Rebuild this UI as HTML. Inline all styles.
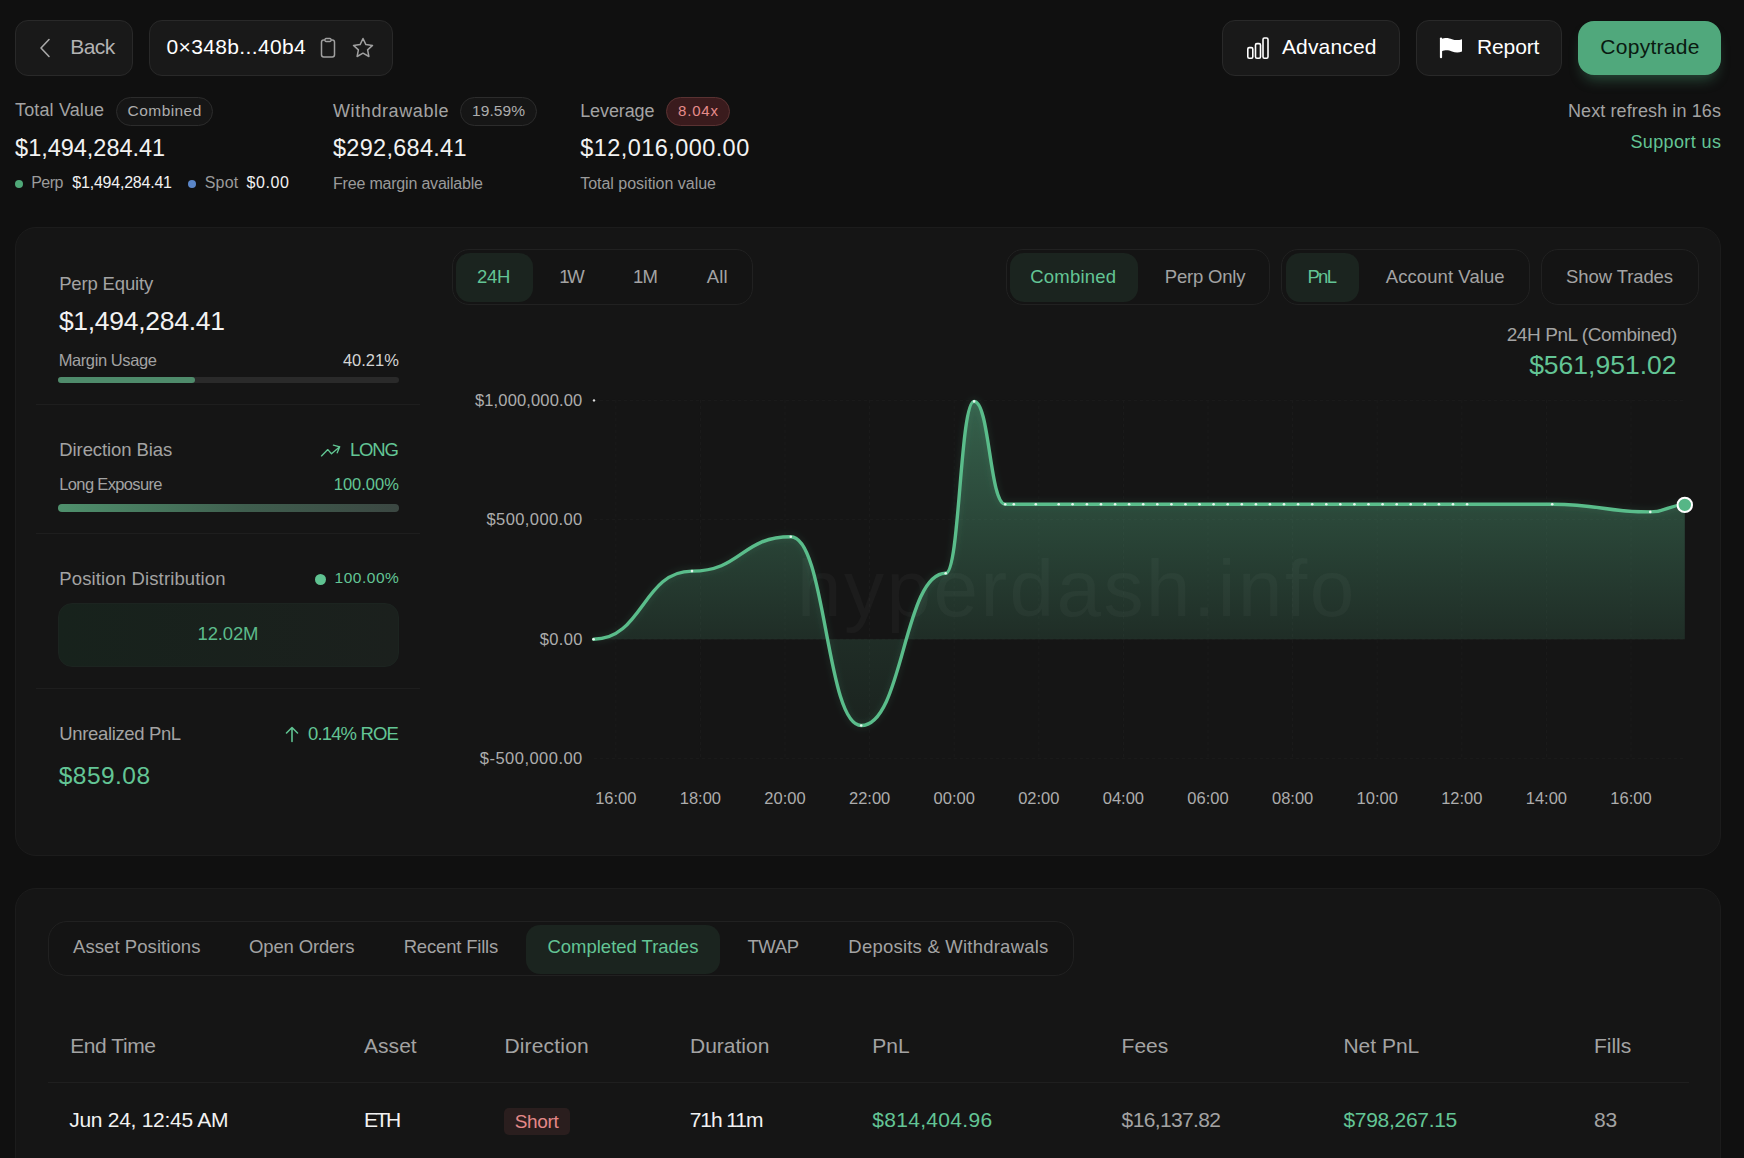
<!DOCTYPE html>
<html><head><meta charset="utf-8"><style>
html,body{margin:0;padding:0;}
body{width:1744px;height:1158px;overflow:hidden;background:#101010;position:relative;font-family:"Liberation Sans",sans-serif;}
.t{position:absolute;white-space:nowrap;line-height:1;}
.b{position:absolute;}
</style></head><body>
<div class="b" style="left:15px;top:20px;width:118px;height:56px;background:#191919;border:1px solid #292929;box-sizing:border-box;border-radius:13px;"></div>
<svg class="b" style="left:38px;top:37px" width="14" height="22" viewBox="0 0 14 22"><path d="M11 2.5 L3 11 L11 19.5" fill="none" stroke="#a8a8a8" stroke-width="1.6" stroke-linecap="round" stroke-linejoin="round"/></svg>
<div class="t" style="left:70.20px;top:36.42px;font-size:21px;color:#b3b3b3;letter-spacing:-0.542px;">Back</div>
<div class="b" style="left:149px;top:20px;width:244px;height:56px;background:#191919;border:1px solid #292929;box-sizing:border-box;border-radius:13px;"></div>
<div class="t" style="left:166.50px;top:36.22px;font-size:21px;color:#ffffff;letter-spacing:0.368px;">0×348b...40b4</div>
<svg class="b" style="left:318px;top:36px" width="20" height="24" viewBox="0 0 20 24"><rect x="3.5" y="4" width="13" height="17" rx="2.2" fill="none" stroke="#a0a0a0" stroke-width="1.5"/><rect x="7" y="2.5" width="6" height="3" rx="1" fill="#191919" stroke="#a0a0a0" stroke-width="1.3"/></svg>
<svg class="b" style="left:350px;top:36px" width="26" height="24" viewBox="0 0 26 24"><path d="M13 2.5 L15.9 8.6 L22.5 9.4 L17.6 13.9 L18.9 20.5 L13 17.2 L7.1 20.5 L8.4 13.9 L3.5 9.4 L10.1 8.6 Z" fill="none" stroke="#a0a0a0" stroke-width="1.5" stroke-linejoin="round"/></svg>
<div class="b" style="left:1222px;top:20px;width:178px;height:56px;background:#191919;border:1px solid #292929;box-sizing:border-box;border-radius:13px;"></div>
<svg class="b" style="left:1245px;top:36px" width="26" height="24" viewBox="0 0 26 24"><rect x="2.8" y="11.6" width="5" height="10.6" rx="1.4" fill="none" stroke="#fff" stroke-width="1.6"/><rect x="10.5" y="7.6" width="5" height="14.6" rx="1.4" fill="none" stroke="#fff" stroke-width="1.6"/><rect x="18" y="2" width="5" height="20.2" rx="1.4" fill="none" stroke="#fff" stroke-width="1.6"/></svg>
<div class="t" style="left:1281.90px;top:36.22px;font-size:21px;color:#ffffff;letter-spacing:0.170px;">Advanced</div>
<div class="b" style="left:1416px;top:20px;width:146px;height:56px;background:#191919;border:1px solid #292929;box-sizing:border-box;border-radius:13px;"></div>
<svg class="b" style="left:1438px;top:35px" width="26" height="26" viewBox="0 0 26 26"><path d="M3 3.5 L3 22.2" stroke="#fff" stroke-width="2.2" stroke-linecap="round"/><path d="M3.5 4 C8 2 11 3.2 14 4.2 C17 5.2 20 5.6 24 4.2 L24 16.5 C20 18 17 17.4 14 16.4 C11 15.4 8 14.4 3.5 16.4 Z" fill="#fff"/></svg>
<div class="t" style="left:1477.00px;top:36.32px;font-size:21px;color:#ffffff;letter-spacing:-0.124px;">Report</div>
<div class="b" style="left:1578px;top:21px;width:143px;height:54px;background:#50a87c;border-radius:16px;box-shadow:0 9px 14px -5px rgba(81,169,125,0.4);"></div>
<div class="t" style="left:1600.30px;top:36.32px;font-size:21px;color:#0a1a11;letter-spacing:0.276px;">Copytrade</div>
<div class="t" style="left:15.10px;top:101.46px;font-size:18px;color:#a3a3a3;letter-spacing:0.127px;">Total Value</div>
<div class="b" style="left:116px;top:97px;width:97px;height:29px;background:#161616;border:1px solid #2c2c2c;box-sizing:border-box;border-radius:15px;"></div>
<div class="t" style="left:127.60px;top:102.98px;font-size:15.5px;color:#adadad;letter-spacing:0.436px;">Combined</div>
<div class="t" style="left:15.10px;top:137.21px;font-size:23.5px;color:#f2f2f2;letter-spacing:-0.024px;">$1,494,284.41</div>
<div class="b" style="left:15px;top:180px;width:8px;height:8px;background:#4fa878;border-radius:50%;"></div>
<div class="t" style="left:31.30px;top:175.36px;font-size:16px;color:#9b9b9b;letter-spacing:-0.597px;">Perp</div>
<div class="t" style="left:72.30px;top:175.36px;font-size:16px;color:#f2f2f2;letter-spacing:-0.218px;">$1,494,284.41</div>
<div class="b" style="left:188px;top:180px;width:8px;height:8px;background:#5b86c8;border-radius:50%;"></div>
<div class="t" style="left:204.70px;top:175.36px;font-size:16px;color:#9b9b9b;letter-spacing:0.229px;">Spot</div>
<div class="t" style="left:246.50px;top:175.36px;font-size:16px;color:#f2f2f2;letter-spacing:0.617px;">$0.00</div>
<div class="t" style="left:333.00px;top:101.96px;font-size:18px;color:#a3a3a3;letter-spacing:0.596px;">Withdrawable</div>
<div class="b" style="left:460px;top:97px;width:77px;height:29px;background:#161616;border:1px solid #2c2c2c;box-sizing:border-box;border-radius:15px;"></div>
<div class="t" style="left:472.00px;top:102.98px;font-size:15.5px;color:#adadad;letter-spacing:0.085px;">19.59%</div>
<div class="t" style="left:333.00px;top:137.11px;font-size:23.5px;color:#f2f2f2;letter-spacing:0.282px;">$292,684.41</div>
<div class="t" style="left:333.00px;top:175.76px;font-size:16px;color:#9b9b9b;letter-spacing:-0.193px;">Free margin available</div>
<div class="t" style="left:580.20px;top:101.96px;font-size:18px;color:#a3a3a3;letter-spacing:-0.109px;">Leverage</div>
<div class="b" style="left:666px;top:97px;width:64px;height:29px;background:#3a1b1d;border:1px solid #5a3232;box-sizing:border-box;border-radius:15px;"></div>
<div class="t" style="left:678.00px;top:103.40px;font-size:15px;color:#e68b8b;letter-spacing:0.827px;">8.04x</div>
<div class="t" style="left:580.20px;top:137.11px;font-size:23.5px;color:#f2f2f2;letter-spacing:0.435px;">$12,016,000.00</div>
<div class="t" style="left:580.20px;top:175.76px;font-size:16px;color:#9b9b9b;letter-spacing:-0.015px;">Total position value</div>
<div class="t" style="left:1568.00px;top:101.76px;font-size:18px;color:#a3a3a3;letter-spacing:0.101px;">Next refresh in 16s</div>
<div class="t" style="left:1630.40px;top:132.96px;font-size:18px;color:#63c595;letter-spacing:0.384px;">Support us</div>
<div class="b" style="left:15px;top:227px;width:1706px;height:629px;background:#151515;border:1px solid #1c1c1c;box-sizing:border-box;border-radius:21px;"></div>
<div class="t" style="left:59.20px;top:274.54px;font-size:18.5px;color:#a3a3a3;letter-spacing:-0.163px;">Perp Equity</div>
<div class="t" style="left:58.90px;top:307.97px;font-size:26.5px;color:#f2f2f2;letter-spacing:-0.289px;">$1,494,284.41</div>
<div class="t" style="left:58.70px;top:352.43px;font-size:16.5px;color:#a3a3a3;letter-spacing:-0.410px;">Margin Usage</div>
<div class="t" style="left:342.93px;top:352.43px;font-size:16.5px;color:#d4d4d4;">40.21%</div>
<div class="b" style="left:58px;top:377px;width:341px;height:6px;background:#2a2a2a;border-radius:3px;"></div>
<div class="b" style="left:58px;top:377px;width:137px;height:6px;background:#4f8b6b;border-radius:3px;"></div>
<div class="b" style="left:36px;top:404px;width:384px;height:1px;background:#1e1e1e;"></div>
<div class="t" style="left:59.30px;top:440.54px;font-size:18.5px;color:#a3a3a3;letter-spacing:-0.094px;">Direction Bias</div>
<svg class="b" style="left:319px;top:442px" width="24" height="17" viewBox="0 0 24 17"><path d="M2.5 13.9 L8.8 7.6 L12.5 11.7 L20.7 4.8 M14.4 3.2 L20.7 4.8 L18.2 10.8" fill="none" stroke="#62c794" stroke-width="1.35" stroke-linecap="round" stroke-linejoin="round"/></svg>
<div class="t" style="left:350.00px;top:440.54px;font-size:18.5px;color:#63c595;letter-spacing:-1.176px;">LONG</div>
<div class="t" style="left:59.30px;top:475.53px;font-size:16.5px;color:#a3a3a3;letter-spacing:-0.650px;">Long Exposure</div>
<div class="t" style="left:333.76px;top:475.53px;font-size:16.5px;color:#63c595;">100.00%</div>
<div class="b" style="left:58px;top:504px;width:341px;height:8px;background:linear-gradient(90deg,#4f916d 0%,#3f5e4e 55%,#3b4742 100%);border-radius:4px;"></div>
<div class="b" style="left:36px;top:533px;width:384px;height:1px;background:#1e1e1e;"></div>
<div class="t" style="left:59.30px;top:569.94px;font-size:18.5px;color:#a3a3a3;letter-spacing:0.136px;">Position Distribution</div>
<div class="b" style="left:315px;top:574px;width:11px;height:11px;background:#5fc291;border-radius:50%;"></div>
<div class="t" style="left:334.50px;top:570.48px;font-size:15.5px;color:#63c595;letter-spacing:0.534px;">100.00%</div>
<div class="b" style="left:58px;top:603px;width:341px;height:64px;background:linear-gradient(90deg,#17221c,#1b201d);border:1px solid #1c2420;box-sizing:border-box;border-radius:14px;"></div>
<div class="t" style="left:197.60px;top:625.44px;font-size:18.5px;color:#5cbb8b;letter-spacing:-0.159px;">12.02M</div>
<div class="b" style="left:36px;top:688px;width:384px;height:1px;background:#1e1e1e;"></div>
<div class="t" style="left:59.30px;top:724.64px;font-size:18.5px;color:#a3a3a3;letter-spacing:-0.360px;">Unrealized PnL</div>
<svg class="b" style="left:283px;top:725px" width="18" height="18" viewBox="0 0 18 18"><path d="M9 16.5 L9 2.5 M3.5 8 L9 2.5 L14.5 8" fill="none" stroke="#5fc291" stroke-width="1.6" stroke-linecap="round" stroke-linejoin="round"/></svg>
<div class="t" style="left:308.00px;top:724.64px;font-size:18.5px;color:#63c595;letter-spacing:-0.848px;">0.14% ROE</div>
<div class="t" style="left:58.70px;top:763.86px;font-size:24.5px;color:#63c595;letter-spacing:0.472px;">$859.08</div>
<div class="b" style="left:452px;top:249px;width:301px;height:56px;background:#141414;border:1px solid #212121;box-sizing:border-box;border-radius:17px;"></div>
<div class="b" style="left:456px;top:253px;width:77px;height:49px;background:#1b241f;border-radius:14px;"></div>
<div class="t" style="left:477.00px;top:268.44px;font-size:18.5px;color:#63c595;letter-spacing:-0.265px;">24H</div>
<div class="t" style="left:559.20px;top:268.44px;font-size:18.5px;color:#a3a3a3;letter-spacing:-2.350px;">1W</div>
<div class="t" style="left:633.00px;top:268.44px;font-size:18.5px;color:#a3a3a3;letter-spacing:-0.697px;">1M</div>
<div class="t" style="left:706.80px;top:268.44px;font-size:18.5px;color:#a3a3a3;letter-spacing:0.173px;">All</div>
<div class="b" style="left:1006px;top:249px;width:264px;height:56px;background:#141414;border:1px solid #212121;box-sizing:border-box;border-radius:17px;"></div>
<div class="b" style="left:1010px;top:253px;width:128px;height:49px;background:#1b241f;border-radius:14px;"></div>
<div class="t" style="left:1030.30px;top:268.34px;font-size:18.5px;color:#63c595;letter-spacing:0.197px;">Combined</div>
<div class="t" style="left:1164.80px;top:268.34px;font-size:18.5px;color:#a3a3a3;letter-spacing:-0.206px;">Perp Only</div>
<div class="b" style="left:1281px;top:249px;width:249px;height:56px;background:#141414;border:1px solid #212121;box-sizing:border-box;border-radius:17px;"></div>
<div class="b" style="left:1286px;top:253px;width:73px;height:49px;background:#1b241f;border-radius:14px;"></div>
<div class="t" style="left:1307.40px;top:268.34px;font-size:18.5px;color:#63c595;letter-spacing:-1.656px;">PnL</div>
<div class="t" style="left:1385.80px;top:268.34px;font-size:18.5px;color:#a3a3a3;letter-spacing:0.072px;">Account Value</div>
<div class="b" style="left:1541px;top:249px;width:158px;height:56px;background:#141414;border:1px solid #212121;box-sizing:border-box;border-radius:17px;"></div>
<div class="t" style="left:1566.10px;top:268.34px;font-size:18.5px;color:#a3a3a3;letter-spacing:-0.107px;">Show Trades</div>
<div class="t" style="left:1506.70px;top:325.12px;font-size:19px;color:#a3a3a3;letter-spacing:-0.423px;">24H PnL (Combined)</div>
<div class="t" style="left:1529.13px;top:351.87px;font-size:26.5px;color:#63c595;">$561,951.02</div>
<div class="t" style="left:474.90px;top:391.83px;font-size:16.5px;color:#adadad;letter-spacing:0.157px;">$1,000,000.00</div>
<div class="t" style="left:486.50px;top:510.83px;font-size:16.5px;color:#adadad;letter-spacing:0.404px;">$500,000.00</div>
<div class="t" style="left:539.80px;top:630.63px;font-size:16.5px;color:#adadad;letter-spacing:0.304px;">$0.00</div>
<div class="t" style="left:479.80px;top:750.23px;font-size:16.5px;color:#adadad;letter-spacing:0.477px;">$-500,000.00</div>
<div class="t" style="left:595.16px;top:790.03px;font-size:16.5px;color:#adadad;">16:00</div>
<div class="t" style="left:679.76px;top:790.03px;font-size:16.5px;color:#adadad;">18:00</div>
<div class="t" style="left:764.36px;top:790.03px;font-size:16.5px;color:#adadad;">20:00</div>
<div class="t" style="left:848.96px;top:790.03px;font-size:16.5px;color:#adadad;">22:00</div>
<div class="t" style="left:933.56px;top:790.03px;font-size:16.5px;color:#adadad;">00:00</div>
<div class="t" style="left:1018.16px;top:790.03px;font-size:16.5px;color:#adadad;">02:00</div>
<div class="t" style="left:1102.76px;top:790.03px;font-size:16.5px;color:#adadad;">04:00</div>
<div class="t" style="left:1187.36px;top:790.03px;font-size:16.5px;color:#adadad;">06:00</div>
<div class="t" style="left:1271.96px;top:790.03px;font-size:16.5px;color:#adadad;">08:00</div>
<div class="t" style="left:1356.56px;top:790.03px;font-size:16.5px;color:#adadad;">10:00</div>
<div class="t" style="left:1441.16px;top:790.03px;font-size:16.5px;color:#adadad;">12:00</div>
<div class="t" style="left:1525.76px;top:790.03px;font-size:16.5px;color:#adadad;">14:00</div>
<div class="t" style="left:1610.36px;top:790.03px;font-size:16.5px;color:#adadad;">16:00</div>
<svg class="b" style="left:0;top:0" width="1744" height="1158" viewBox="0 0 1744 1158">
<defs>
<linearGradient id="fg" gradientUnits="userSpaceOnUse" x1="0" y1="400" x2="0" y2="726">
<stop offset="0" stop-color="#5fc291" stop-opacity="0.44"/>
<stop offset="0.733" stop-color="#5fc291" stop-opacity="0.14"/>
<stop offset="1" stop-color="#5fc291" stop-opacity="0.08"/>
</linearGradient>
<filter id="glow" x="-5%" y="-20%" width="110%" height="140%"><feGaussianBlur stdDeviation="3"/></filter>
</defs>
<line x1="594" y1="400.4" x2="1685" y2="400.4" stroke="#1b1b1b" stroke-width="1" stroke-dasharray="3 3"/><line x1="594" y1="519.6" x2="1685" y2="519.6" stroke="#1b1b1b" stroke-width="1" stroke-dasharray="3 3"/><line x1="594" y1="639.2" x2="1685" y2="639.2" stroke="#1b1b1b" stroke-width="1" stroke-dasharray="3 3"/><line x1="594" y1="758.6" x2="1685" y2="758.6" stroke="#1b1b1b" stroke-width="1" stroke-dasharray="3 3"/><line x1="615.8" y1="400" x2="615.8" y2="759" stroke="#1b1b1b" stroke-width="1" stroke-dasharray="3 3"/><line x1="700.4" y1="400" x2="700.4" y2="759" stroke="#1b1b1b" stroke-width="1" stroke-dasharray="3 3"/><line x1="785.0" y1="400" x2="785.0" y2="759" stroke="#1b1b1b" stroke-width="1" stroke-dasharray="3 3"/><line x1="869.6" y1="400" x2="869.6" y2="759" stroke="#1b1b1b" stroke-width="1" stroke-dasharray="3 3"/><line x1="954.2" y1="400" x2="954.2" y2="759" stroke="#1b1b1b" stroke-width="1" stroke-dasharray="3 3"/><line x1="1038.8" y1="400" x2="1038.8" y2="759" stroke="#1b1b1b" stroke-width="1" stroke-dasharray="3 3"/><line x1="1123.4" y1="400" x2="1123.4" y2="759" stroke="#1b1b1b" stroke-width="1" stroke-dasharray="3 3"/><line x1="1208.0" y1="400" x2="1208.0" y2="759" stroke="#1b1b1b" stroke-width="1" stroke-dasharray="3 3"/><line x1="1292.6" y1="400" x2="1292.6" y2="759" stroke="#1b1b1b" stroke-width="1" stroke-dasharray="3 3"/><line x1="1377.2" y1="400" x2="1377.2" y2="759" stroke="#1b1b1b" stroke-width="1" stroke-dasharray="3 3"/><line x1="1461.8" y1="400" x2="1461.8" y2="759" stroke="#1b1b1b" stroke-width="1" stroke-dasharray="3 3"/><line x1="1546.4" y1="400" x2="1546.4" y2="759" stroke="#1b1b1b" stroke-width="1" stroke-dasharray="3 3"/><line x1="1631.0" y1="400" x2="1631.0" y2="759" stroke="#1b1b1b" stroke-width="1" stroke-dasharray="3 3"/>
<path d="M593.6 639.2 C642.80 639.20 642.80 571.10 692.0 571.1 C741.40 571.10 741.40 536.80 790.8 536.8 C826.00 536.80 826.00 725.50 861.2 725.5 C903.45 725.50 903.45 573.30 945.7 573.3 C959.90 573.30 959.90 401.40 974.1 401.4 C989.65 401.40 989.65 504.20 1005.2 504.2 C1009.50 504.20 1009.50 504.20 1013.8 504.2 C1024.80 504.20 1024.80 504.20 1035.8 504.2 C1047.25 504.20 1047.25 504.20 1058.7 504.2 C1065.65 504.20 1065.65 504.20 1072.6 504.2 C1079.75 504.20 1079.75 504.20 1086.9 504.2 C1093.94 504.20 1093.94 504.20 1101.0 504.2 C1108.02 504.20 1108.02 504.20 1115.1 504.2 C1122.10 504.20 1122.10 504.20 1129.1 504.2 C1136.18 504.20 1136.18 504.20 1143.2 504.2 C1150.26 504.20 1150.26 504.20 1157.3 504.2 C1164.34 504.20 1164.34 504.20 1171.4 504.2 C1178.42 504.20 1178.42 504.20 1185.5 504.2 C1192.50 504.20 1192.50 504.20 1199.5 504.2 C1206.58 504.20 1206.58 504.20 1213.6 504.2 C1220.66 504.20 1220.66 504.20 1227.7 504.2 C1234.74 504.20 1234.74 504.20 1241.8 504.2 C1248.82 504.20 1248.82 504.20 1255.9 504.2 C1262.90 504.20 1262.90 504.20 1269.9 504.2 C1276.98 504.20 1276.98 504.20 1284.0 504.2 C1291.06 504.20 1291.06 504.20 1298.1 504.2 C1305.14 504.20 1305.14 504.20 1312.2 504.2 C1319.22 504.20 1319.22 504.20 1326.3 504.2 C1333.30 504.20 1333.30 504.20 1340.3 504.2 C1347.38 504.20 1347.38 504.20 1354.4 504.2 C1361.46 504.20 1361.46 504.20 1368.5 504.2 C1375.54 504.20 1375.54 504.20 1382.6 504.2 C1389.62 504.20 1389.62 504.20 1396.7 504.2 C1403.70 504.20 1403.70 504.20 1410.7 504.2 C1417.78 504.20 1417.78 504.20 1424.8 504.2 C1431.86 504.20 1431.86 504.20 1438.9 504.2 C1445.94 504.20 1445.94 504.20 1453.0 504.2 C1460.02 504.20 1460.02 504.20 1467.1 504.2 C1509.63 504.20 1509.63 504.20 1552.2 504.2 C1601.25 504.20 1601.25 511.90 1650.3 511.9 C1667.55 511.90 1667.55 504.90 1684.8 504.9 L1684.8 639.2 L593.6 639.2 Z" fill="url(#fg)"/>
<text x="797" y="616" font-family="Liberation Sans" font-size="80" fill="#ffffff" fill-opacity="0.03" letter-spacing="2.5">hyperdash.info</text>
<path d="M593.6 639.2 C642.80 639.20 642.80 571.10 692.0 571.1 C741.40 571.10 741.40 536.80 790.8 536.8 C826.00 536.80 826.00 725.50 861.2 725.5 C903.45 725.50 903.45 573.30 945.7 573.3 C959.90 573.30 959.90 401.40 974.1 401.4 C989.65 401.40 989.65 504.20 1005.2 504.2 C1009.50 504.20 1009.50 504.20 1013.8 504.2 C1024.80 504.20 1024.80 504.20 1035.8 504.2 C1047.25 504.20 1047.25 504.20 1058.7 504.2 C1065.65 504.20 1065.65 504.20 1072.6 504.2 C1079.75 504.20 1079.75 504.20 1086.9 504.2 C1093.94 504.20 1093.94 504.20 1101.0 504.2 C1108.02 504.20 1108.02 504.20 1115.1 504.2 C1122.10 504.20 1122.10 504.20 1129.1 504.2 C1136.18 504.20 1136.18 504.20 1143.2 504.2 C1150.26 504.20 1150.26 504.20 1157.3 504.2 C1164.34 504.20 1164.34 504.20 1171.4 504.2 C1178.42 504.20 1178.42 504.20 1185.5 504.2 C1192.50 504.20 1192.50 504.20 1199.5 504.2 C1206.58 504.20 1206.58 504.20 1213.6 504.2 C1220.66 504.20 1220.66 504.20 1227.7 504.2 C1234.74 504.20 1234.74 504.20 1241.8 504.2 C1248.82 504.20 1248.82 504.20 1255.9 504.2 C1262.90 504.20 1262.90 504.20 1269.9 504.2 C1276.98 504.20 1276.98 504.20 1284.0 504.2 C1291.06 504.20 1291.06 504.20 1298.1 504.2 C1305.14 504.20 1305.14 504.20 1312.2 504.2 C1319.22 504.20 1319.22 504.20 1326.3 504.2 C1333.30 504.20 1333.30 504.20 1340.3 504.2 C1347.38 504.20 1347.38 504.20 1354.4 504.2 C1361.46 504.20 1361.46 504.20 1368.5 504.2 C1375.54 504.20 1375.54 504.20 1382.6 504.2 C1389.62 504.20 1389.62 504.20 1396.7 504.2 C1403.70 504.20 1403.70 504.20 1410.7 504.2 C1417.78 504.20 1417.78 504.20 1424.8 504.2 C1431.86 504.20 1431.86 504.20 1438.9 504.2 C1445.94 504.20 1445.94 504.20 1453.0 504.2 C1460.02 504.20 1460.02 504.20 1467.1 504.2 C1509.63 504.20 1509.63 504.20 1552.2 504.2 C1601.25 504.20 1601.25 511.90 1650.3 511.9 C1667.55 511.90 1667.55 504.90 1684.8 504.9" fill="none" stroke="#5fc291" stroke-opacity="0.1" stroke-width="6" filter="url(#glow)"/>
<path d="M593.6 639.2 C642.80 639.20 642.80 571.10 692.0 571.1 C741.40 571.10 741.40 536.80 790.8 536.8 C826.00 536.80 826.00 725.50 861.2 725.5 C903.45 725.50 903.45 573.30 945.7 573.3 C959.90 573.30 959.90 401.40 974.1 401.4 C989.65 401.40 989.65 504.20 1005.2 504.2 C1009.50 504.20 1009.50 504.20 1013.8 504.2 C1024.80 504.20 1024.80 504.20 1035.8 504.2 C1047.25 504.20 1047.25 504.20 1058.7 504.2 C1065.65 504.20 1065.65 504.20 1072.6 504.2 C1079.75 504.20 1079.75 504.20 1086.9 504.2 C1093.94 504.20 1093.94 504.20 1101.0 504.2 C1108.02 504.20 1108.02 504.20 1115.1 504.2 C1122.10 504.20 1122.10 504.20 1129.1 504.2 C1136.18 504.20 1136.18 504.20 1143.2 504.2 C1150.26 504.20 1150.26 504.20 1157.3 504.2 C1164.34 504.20 1164.34 504.20 1171.4 504.2 C1178.42 504.20 1178.42 504.20 1185.5 504.2 C1192.50 504.20 1192.50 504.20 1199.5 504.2 C1206.58 504.20 1206.58 504.20 1213.6 504.2 C1220.66 504.20 1220.66 504.20 1227.7 504.2 C1234.74 504.20 1234.74 504.20 1241.8 504.2 C1248.82 504.20 1248.82 504.20 1255.9 504.2 C1262.90 504.20 1262.90 504.20 1269.9 504.2 C1276.98 504.20 1276.98 504.20 1284.0 504.2 C1291.06 504.20 1291.06 504.20 1298.1 504.2 C1305.14 504.20 1305.14 504.20 1312.2 504.2 C1319.22 504.20 1319.22 504.20 1326.3 504.2 C1333.30 504.20 1333.30 504.20 1340.3 504.2 C1347.38 504.20 1347.38 504.20 1354.4 504.2 C1361.46 504.20 1361.46 504.20 1368.5 504.2 C1375.54 504.20 1375.54 504.20 1382.6 504.2 C1389.62 504.20 1389.62 504.20 1396.7 504.2 C1403.70 504.20 1403.70 504.20 1410.7 504.2 C1417.78 504.20 1417.78 504.20 1424.8 504.2 C1431.86 504.20 1431.86 504.20 1438.9 504.2 C1445.94 504.20 1445.94 504.20 1453.0 504.2 C1460.02 504.20 1460.02 504.20 1467.1 504.2 C1509.63 504.20 1509.63 504.20 1552.2 504.2 C1601.25 504.20 1601.25 511.90 1650.3 511.9 C1667.55 511.90 1667.55 504.90 1684.8 504.9" fill="none" stroke="#5abd8b" stroke-width="3.4" stroke-linecap="round" stroke-linejoin="round"/>
<circle cx="593.6" cy="639.2" r="1.3" fill="#e8f5ee"/><circle cx="692.0" cy="571.1" r="1.3" fill="#e8f5ee"/><circle cx="790.8" cy="536.8" r="1.3" fill="#e8f5ee"/><circle cx="861.2" cy="725.5" r="1.3" fill="#e8f5ee"/><circle cx="945.7" cy="573.3" r="1.3" fill="#e8f5ee"/><circle cx="974.1" cy="401.4" r="1.3" fill="#e8f5ee"/><circle cx="1005.2" cy="504.2" r="1.3" fill="#e8f5ee"/><circle cx="1013.8" cy="504.2" r="1.3" fill="#e8f5ee"/><circle cx="1035.8" cy="504.2" r="1.3" fill="#e8f5ee"/><circle cx="1058.7" cy="504.2" r="1.3" fill="#e8f5ee"/><circle cx="1072.6" cy="504.2" r="1.3" fill="#e8f5ee"/><circle cx="1086.9" cy="504.2" r="1.3" fill="#e8f5ee"/><circle cx="1101.0" cy="504.2" r="1.3" fill="#e8f5ee"/><circle cx="1115.1" cy="504.2" r="1.3" fill="#e8f5ee"/><circle cx="1129.1" cy="504.2" r="1.3" fill="#e8f5ee"/><circle cx="1143.2" cy="504.2" r="1.3" fill="#e8f5ee"/><circle cx="1157.3" cy="504.2" r="1.3" fill="#e8f5ee"/><circle cx="1171.4" cy="504.2" r="1.3" fill="#e8f5ee"/><circle cx="1185.5" cy="504.2" r="1.3" fill="#e8f5ee"/><circle cx="1199.5" cy="504.2" r="1.3" fill="#e8f5ee"/><circle cx="1213.6" cy="504.2" r="1.3" fill="#e8f5ee"/><circle cx="1227.7" cy="504.2" r="1.3" fill="#e8f5ee"/><circle cx="1241.8" cy="504.2" r="1.3" fill="#e8f5ee"/><circle cx="1255.9" cy="504.2" r="1.3" fill="#e8f5ee"/><circle cx="1269.9" cy="504.2" r="1.3" fill="#e8f5ee"/><circle cx="1284.0" cy="504.2" r="1.3" fill="#e8f5ee"/><circle cx="1298.1" cy="504.2" r="1.3" fill="#e8f5ee"/><circle cx="1312.2" cy="504.2" r="1.3" fill="#e8f5ee"/><circle cx="1326.3" cy="504.2" r="1.3" fill="#e8f5ee"/><circle cx="1340.3" cy="504.2" r="1.3" fill="#e8f5ee"/><circle cx="1354.4" cy="504.2" r="1.3" fill="#e8f5ee"/><circle cx="1368.5" cy="504.2" r="1.3" fill="#e8f5ee"/><circle cx="1382.6" cy="504.2" r="1.3" fill="#e8f5ee"/><circle cx="1396.7" cy="504.2" r="1.3" fill="#e8f5ee"/><circle cx="1410.7" cy="504.2" r="1.3" fill="#e8f5ee"/><circle cx="1424.8" cy="504.2" r="1.3" fill="#e8f5ee"/><circle cx="1438.9" cy="504.2" r="1.3" fill="#e8f5ee"/><circle cx="1453.0" cy="504.2" r="1.3" fill="#e8f5ee"/><circle cx="1467.1" cy="504.2" r="1.3" fill="#e8f5ee"/><circle cx="1552.2" cy="504.2" r="1.3" fill="#e8f5ee"/><circle cx="1650.3" cy="511.9" r="1.3" fill="#e8f5ee"/>
<circle cx="594" cy="400.4" r="1.2" fill="#ddd"/>
<circle cx="1684.8" cy="504.9" r="7.2" fill="#56b686" stroke="#ffffff" stroke-width="2"/>
</svg>
<div class="b" style="left:15px;top:888px;width:1706px;height:312px;background:#151515;border:1px solid #1c1c1c;box-sizing:border-box;border-radius:21px;"></div>
<div class="b" style="left:48px;top:921px;width:1026px;height:55px;background:#141414;border:1px solid #212121;box-sizing:border-box;border-radius:19px;"></div>
<div class="b" style="left:526px;top:925px;width:194px;height:49px;background:#1b241f;border-radius:14px;"></div>
<div class="t" style="left:73.00px;top:938.34px;font-size:18.5px;color:#a3a3a3;letter-spacing:0.067px;">Asset Positions</div>
<div class="t" style="left:249.10px;top:938.34px;font-size:18.5px;color:#a3a3a3;letter-spacing:-0.153px;">Open Orders</div>
<div class="t" style="left:403.70px;top:938.34px;font-size:18.5px;color:#a3a3a3;letter-spacing:-0.186px;">Recent Fills</div>
<div class="t" style="left:547.50px;top:938.34px;font-size:18.5px;color:#63c595;letter-spacing:-0.018px;">Completed Trades</div>
<div class="t" style="left:747.40px;top:938.34px;font-size:18.5px;color:#a3a3a3;letter-spacing:-0.387px;">TWAP</div>
<div class="t" style="left:848.30px;top:938.34px;font-size:18.5px;color:#a3a3a3;letter-spacing:0.222px;">Deposits &amp; Withdrawals</div>
<div class="t" style="left:70.30px;top:1034.52px;font-size:21px;color:#a3a3a3;letter-spacing:-0.443px;">End Time</div>
<div class="t" style="left:364.00px;top:1034.52px;font-size:21px;color:#a3a3a3;letter-spacing:0.045px;">Asset</div>
<div class="t" style="left:504.40px;top:1034.52px;font-size:21px;color:#a3a3a3;letter-spacing:0.179px;">Direction</div>
<div class="t" style="left:690.00px;top:1034.52px;font-size:21px;color:#a3a3a3;">Duration</div>
<div class="t" style="left:872.30px;top:1034.52px;font-size:21px;color:#a3a3a3;">PnL</div>
<div class="t" style="left:1121.60px;top:1034.52px;font-size:21px;color:#a3a3a3;">Fees</div>
<div class="t" style="left:1343.40px;top:1034.52px;font-size:21px;color:#a3a3a3;">Net PnL</div>
<div class="t" style="left:1593.90px;top:1034.52px;font-size:21px;color:#a3a3a3;">Fills</div>
<div class="b" style="left:48px;top:1082px;width:1641px;height:1px;background:#1f1f1f;"></div>
<div class="t" style="left:69.20px;top:1108.72px;font-size:21px;color:#f2f2f2;letter-spacing:-0.276px;">Jun 24, 12:45 AM</div>
<div class="t" style="left:364.00px;top:1108.72px;font-size:21px;color:#f2f2f2;letter-spacing:-2.400px;">ETH</div>
<div class="b" style="left:504px;top:1108px;width:66px;height:27px;background:#2a1e1e;border-radius:5px;"></div>
<div class="t" style="left:514.70px;top:1112.12px;font-size:19px;color:#e48888;letter-spacing:-0.328px;">Short</div>
<div class="t" style="left:689.70px;top:1108.72px;font-size:21px;color:#f2f2f2;letter-spacing:-1.076px;">71h 11m</div>
<div class="t" style="left:872.30px;top:1108.72px;font-size:21px;color:#63c595;letter-spacing:0.302px;">$814,404.96</div>
<div class="t" style="left:1121.60px;top:1108.72px;font-size:21px;color:#a3a3a3;letter-spacing:-0.634px;">$16,137.82</div>
<div class="t" style="left:1343.40px;top:1108.72px;font-size:21px;color:#63c595;letter-spacing:-0.288px;">$798,267.15</div>
<div class="t" style="left:1593.90px;top:1108.72px;font-size:21px;color:#a3a3a3;letter-spacing:0.048px;">83</div>
</body></html>
